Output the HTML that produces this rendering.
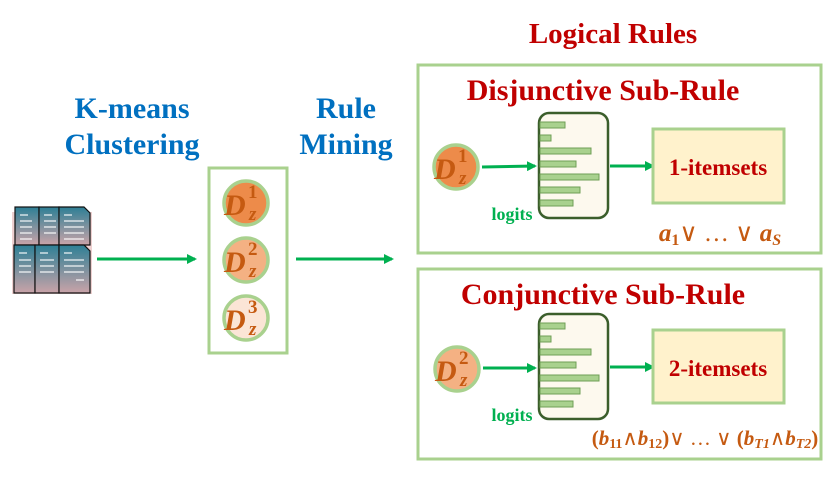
<!DOCTYPE html>
<html><head><meta charset="utf-8"><style>
html,body{margin:0;padding:0;background:#fff;width:831px;height:489px;overflow:hidden}
svg{display:block}
.t{font-family:"Liberation Serif",serif;font-weight:bold}
.m{font-family:"Liberation Serif",serif;font-weight:bold;font-style:italic;fill:#c55a11}
</style></head><body>
<svg width="831" height="489" viewBox="0 0 831 489" xmlns="http://www.w3.org/2000/svg">
<defs>
<marker id="ah" markerWidth="10" markerHeight="10" refX="8" refY="5" orient="auto" markerUnits="userSpaceOnUse">
<path d="M0,0 L10,5 L0,10 z" fill="#00b050"/></marker>
<linearGradient id="dg" x1="0" y1="0" x2="0" y2="1"><stop offset="0" stop-color="#2e7f95"/><stop offset="1" stop-color="#c9a3a8"/></linearGradient>
</defs>

<text class="t" x="132" y="118" font-size="30" fill="#0070c0" text-anchor="middle">K-means</text>
<text class="t" x="132" y="154" font-size="30" fill="#0070c0" text-anchor="middle">Clustering</text>
<text class="t" x="346" y="118" font-size="30" fill="#0070c0" text-anchor="middle">Rule</text>
<text class="t" x="346" y="154" font-size="30" fill="#0070c0" text-anchor="middle">Mining</text>
<text class="t" x="613" y="43" font-size="29" fill="#c00000" text-anchor="middle">Logical Rules</text>

<g>
<rect x="12" y="212" width="80" height="82" fill="#e8c4c4" opacity="0.8"/>
<g stroke="#111" stroke-width="1.2" fill="url(#dg)">
<rect x="15" y="207" width="24" height="38"/><rect x="39" y="207" width="20" height="38"/><path d="M59,207 h25 l6,6 v32 h-31z"/>
<rect x="14" y="245" width="21" height="48"/><rect x="35" y="245" width="24" height="48"/><path d="M59,245 h25 l6,6 v42 h-31z"/>
</g>
<g stroke="#fff" stroke-width="1.2" opacity="0.9">
<path d="M20,215h8M20,221h12M20,227h12M20,233h12M20,239h12M44,215h8M44,221h12M44,227h12M44,233h12M64,215h8M64,221h20M64,227h20M64,233h20M64,239h20"/>
<path d="M19,253h8M19,260h12M19,266h12M19,272h12M40,253h8M40,260h14M40,266h14M40,272h14M64,253h8M64,260h20M64,266h20M64,272h20M76,280h8"/>
</g>
</g>

<line x1="97" y1="259" x2="195" y2="259" stroke="#00b050" stroke-width="3" marker-end="url(#ah)"/>

<rect x="209" y="168" width="78" height="185" fill="none" stroke="#a9d18e" stroke-width="3"/>
<g stroke="#a9d18e" stroke-width="3.5">
<circle cx="246" cy="203" r="22" fill="#ed8b4a"/>
<circle cx="246" cy="260" r="22" fill="#f4b183"/>
<circle cx="246" cy="318" r="22" fill="#fbe5d6"/>
</g>
<g class="m">
<text x="224" y="215" font-size="30">D</text><text x="248" y="198" font-size="19" style="font-style:normal">1</text><text x="249" y="220" font-size="19">z</text>
<text x="224" y="272" font-size="30">D</text><text x="248" y="255" font-size="19" style="font-style:normal">2</text><text x="249" y="277" font-size="19">z</text>
<text x="224" y="330" font-size="30">D</text><text x="248" y="313" font-size="19" style="font-style:normal">3</text><text x="249" y="335" font-size="19">z</text>
</g>

<line x1="296" y1="259" x2="392" y2="259" stroke="#00b050" stroke-width="3" marker-end="url(#ah)"/>

<rect x="418" y="65" width="403" height="188" fill="none" stroke="#a9d18e" stroke-width="3"/>
<rect x="418" y="269" width="403" height="190" fill="none" stroke="#a9d18e" stroke-width="3"/>
<text class="t" x="603" y="100" font-size="30" fill="#c00000" text-anchor="middle">Disjunctive Sub-Rule</text>
<text class="t" x="603" y="304" font-size="30" fill="#c00000" text-anchor="middle">Conjunctive Sub-Rule</text>

<circle cx="456" cy="167" r="22" fill="#ed8b4a" stroke="#a9d18e" stroke-width="3.5"/>
<g class="m"><text x="434" y="179" font-size="30">D</text><text x="458" y="162" font-size="19" style="font-style:normal">1</text><text x="459" y="184" font-size="19">z</text></g>
<line x1="482" y1="167" x2="535" y2="166" stroke="#00b050" stroke-width="3" marker-end="url(#ah)"/>
<rect x="539" y="113" width="69" height="105" rx="10" fill="#fdf9ee" stroke="#3b5e2b" stroke-width="2.5"/>
<g fill="#a9d18e" stroke="#6f9e55" stroke-width="1">
<rect x="540" y="122" width="25" height="6"/><rect x="540" y="135" width="11" height="6"/><rect x="540" y="148" width="51" height="6"/><rect x="540" y="161" width="36" height="6"/><rect x="540" y="174" width="59" height="6"/><rect x="540" y="187" width="40" height="6"/><rect x="540" y="200" width="33" height="6"/>
</g>
<line x1="610" y1="166" x2="653" y2="166" stroke="#00b050" stroke-width="3" marker-end="url(#ah)"/>
<rect x="653" y="129" width="131" height="74" fill="#fff2cc" stroke="#a9d18e" stroke-width="3"/>
<text class="t" x="718" y="175" font-size="23" fill="#c00000" text-anchor="middle">1-itemsets</text>
<text class="t" x="512" y="220" font-size="18" fill="#00b050" text-anchor="middle">logits</text>
<text x="720" y="241" font-size="25" text-anchor="middle" class="t" fill="#c55a11"><tspan font-style="italic">a</tspan><tspan font-size="16" dy="4">1</tspan><tspan dy="-4" font-weight="normal">∨ … ∨ </tspan><tspan font-style="italic">a</tspan><tspan font-size="16" dy="4" font-style="italic">S</tspan></text>

<circle cx="457" cy="369" r="22" fill="#f4b183" stroke="#a9d18e" stroke-width="3.5"/>
<g class="m"><text x="435" y="381" font-size="30">D</text><text x="459" y="364" font-size="19" style="font-style:normal">2</text><text x="460" y="386" font-size="19">z</text></g>
<line x1="483" y1="368" x2="535" y2="368" stroke="#00b050" stroke-width="3" marker-end="url(#ah)"/>
<rect x="539" y="314" width="69" height="105" rx="10" fill="#fdf9ee" stroke="#3b5e2b" stroke-width="2.5"/>
<g fill="#a9d18e" stroke="#6f9e55" stroke-width="1">
<rect x="540" y="323" width="25" height="6"/><rect x="540" y="336" width="11" height="6"/><rect x="540" y="349" width="51" height="6"/><rect x="540" y="362" width="36" height="6"/><rect x="540" y="375" width="59" height="6"/><rect x="540" y="388" width="40" height="6"/><rect x="540" y="401" width="33" height="6"/>
</g>
<line x1="610" y1="367" x2="653" y2="367" stroke="#00b050" stroke-width="3" marker-end="url(#ah)"/>
<rect x="653" y="330" width="131" height="73" fill="#fff2cc" stroke="#a9d18e" stroke-width="3"/>
<text class="t" x="718" y="376" font-size="23" fill="#c00000" text-anchor="middle">2-itemsets</text>
<text class="t" x="512" y="421" font-size="18" fill="#00b050" text-anchor="middle">logits</text>
<text x="705" y="445" font-size="21" text-anchor="middle" class="t" fill="#c55a11">(<tspan font-style="italic">b</tspan><tspan font-size="14" dy="3">11</tspan><tspan dy="-3" font-weight="normal">∧</tspan><tspan font-style="italic">b</tspan><tspan font-size="14" dy="3">12</tspan><tspan dy="-3">)<tspan font-weight="normal">∨ … ∨ </tspan>(</tspan><tspan font-style="italic">b</tspan><tspan font-size="14" dy="3" font-style="italic">T1</tspan><tspan dy="-3" font-weight="normal">∧</tspan><tspan font-style="italic">b</tspan><tspan font-size="14" dy="3" font-style="italic">T2</tspan><tspan dy="-3">)</tspan></text>
</svg>
</body></html>
